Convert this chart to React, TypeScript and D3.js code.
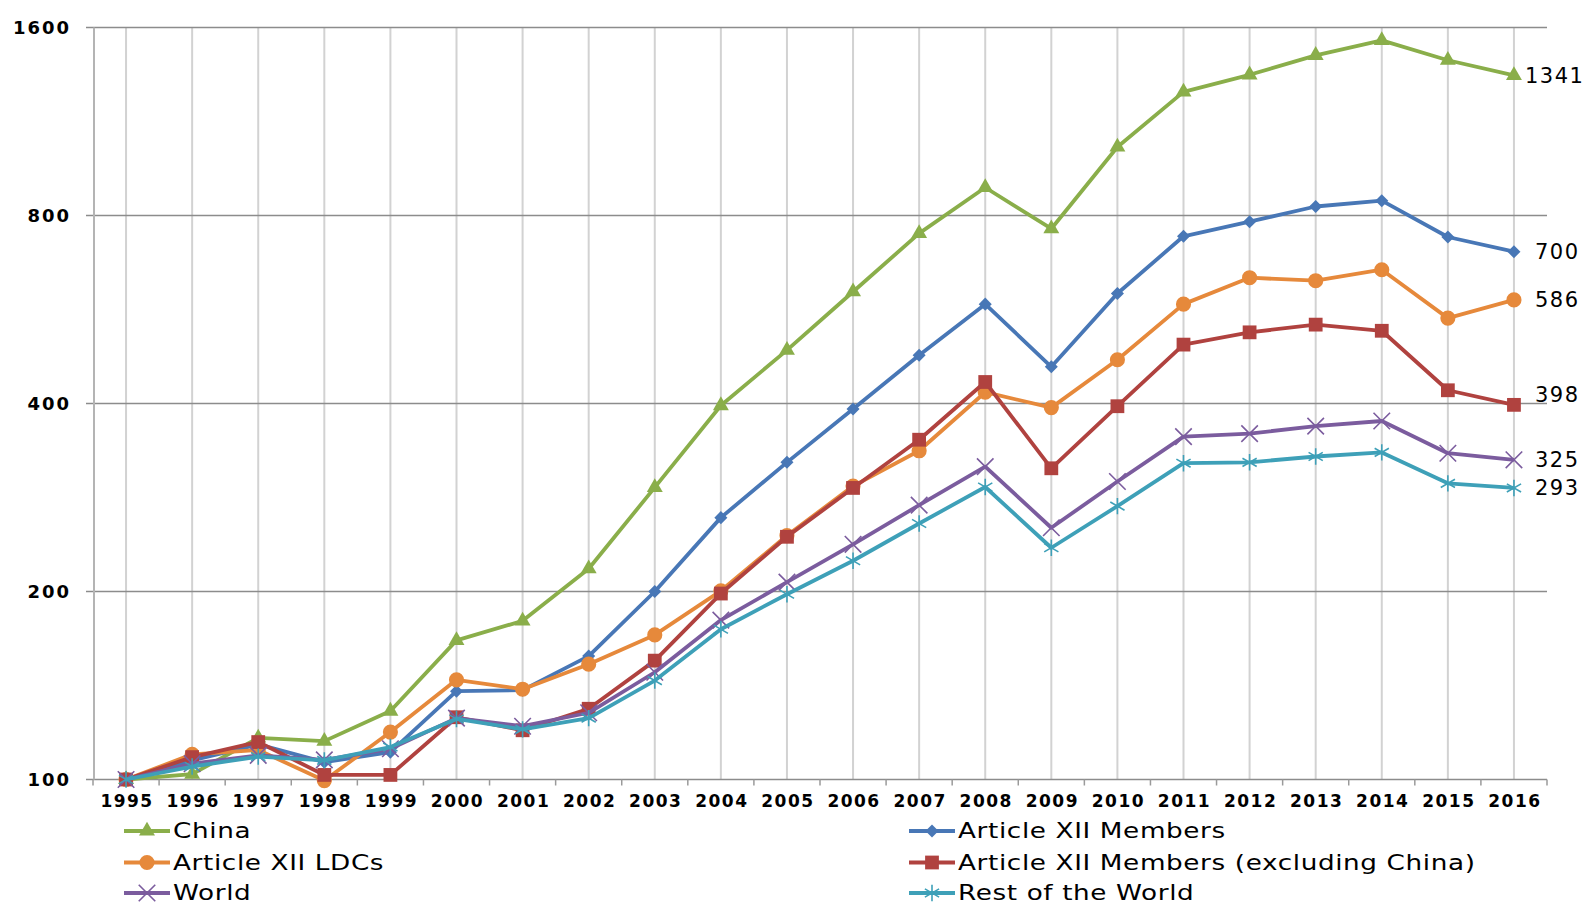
import { useEffect, useRef } from "react"
import * as d3 from "d3"

const years = d3.range(1995, 2017).map(String)
const yTicks = [100, 200, 400, 800, 1600]

const china = [100, 102, 116.6, 115.2, 128.7, 167, 179.5, 217.5, 293.6, 397, 487, 604, 749, 887, 762, 1030, 1262, 1344, 1444, 1526, 1418, 1341]
const members = [100, 107.3, 113.8, 106.6, 110.6, 138.5, 139, 157.6, 200, 262.6, 322, 392, 478, 577, 458, 600, 741, 782, 827, 845, 739, 700]
const ldcs = [100, 109.7, 111.5, 99.6, 119.1, 144.4, 139.5, 153, 170.4, 200.5, 245.8, 295, 336, 417, 394, 470, 577, 636, 629, 655, 548, 586]
const exChina = [100, 108.6, 114.8, 101.7, 101.7, 125.8, 119.9, 129.8, 155, 198.5, 244.7, 293, 350, 433, 315, 396, 497, 520, 535, 523, 420, 398]
const world = [100, 106, 109.3, 107.5, 112, 125.4, 121.7, 127.9, 148.5, 180, 207, 238, 275, 317, 253, 300, 354, 358, 368, 375, 333, 325]
const rest = [100, 104.9, 108.8, 107.3, 112.7, 125, 120.3, 125.4, 144, 174, 198, 224, 257, 294, 235, 274, 321, 322, 329, 334, 298, 293]

const endLabels = ["1341", "700", "586", "398", "325", "293"]

type Series = {
  name: string
  values: number[]
  color: string
  marker: "triangle" | "diamond" | "circle" | "square" | "x" | "star"
}

const series: Series[] = [
  { name: "China", values: china, color: "#8aae4a", marker: "triangle" },
  { name: "Article XII Members", values: members, color: "#4877b6", marker: "diamond" },
  { name: "Article XII LDCs", values: ldcs, color: "#e6893b", marker: "circle" },
  { name: "Article XII Members (excluding China)", values: exChina, color: "#b0423f", marker: "square" },
  { name: "World", values: world, color: "#7b5c9e", marker: "x" },
  { name: "Rest of the World", values: rest, color: "#3ea0b8", marker: "star" },
]

function markerPath(kind: Series["marker"]) {
  switch (kind) {
    case "triangle":
      return d3.symbol(d3.symbolTriangle, 110)()
    case "diamond":
      return d3.symbol(d3.symbolSquare, 85)()
    case "circle":
      return d3.symbol(d3.symbolCircle, 180)()
    case "square":
      return d3.symbol(d3.symbolSquare, 190)()
    case "x":
      return d3.symbol(d3.symbolTimes, 180)()
    case "star":
      return d3.symbol(d3.symbolAsterisk, 190)()
  }
}

export default function App() {
  const svgRef = useRef<SVGSVGElement>(null)

  useEffect(() => {
    if (!svgRef.current) return
    const svg = d3.select(svgRef.current)
    svg.selectAll("*").remove()

    const left = 93
    const right = 1547
    const top = 27.5
    const bottom = 779.5

    const x = d3.scaleBand().domain(years).range([left, right])
    const cx = (yr: string) => (x(yr) as number) + x.bandwidth() / 2
    const y = d3.scaleLog().base(2).domain([100, 1600]).range([bottom, top])

    // vertical gridlines
    svg.append("g")
      .selectAll("line")
      .data(years)
      .join("line")
      .attr("x1", (d) => cx(d))
      .attr("x2", (d) => cx(d))
      .attr("y1", top)
      .attr("y2", bottom)
      .attr("stroke", "#d2d2d2")
      .attr("stroke-width", 2)

    // horizontal gridlines + y ticks
    svg.append("g")
      .selectAll("line")
      .data(yTicks)
      .join("line")
      .attr("x1", left - 7)
      .attr("x2", right)
      .attr("y1", (d) => y(d))
      .attr("y2", (d) => y(d))
      .attr("stroke", "#8c8c8c")
      .attr("stroke-width", 1.5)

    // left axis line
    svg.append("line")
      .attr("x1", left + 1)
      .attr("x2", left + 1)
      .attr("y1", top)
      .attr("y2", bottom)
      .attr("stroke", "#b4b4b4")
      .attr("stroke-width", 2)

    // x tick marks at band edges
    svg.append("g")
      .selectAll("line")
      .data(d3.range(years.length + 1))
      .join("line")
      .attr("x1", (i) => left + i * x.step())
      .attr("x2", (i) => left + i * x.step())
      .attr("y1", bottom)
      .attr("y2", bottom + 6)
      .attr("stroke", "#9a9a9a")
      .attr("stroke-width", 1.5)

    // y labels
    svg.append("g")
      .selectAll("text")
      .data(yTicks)
      .join("text")
      .attr("x", 71)
      .attr("y", (d) => y(d))
      .attr("dy", "0.36em")
      .attr("text-anchor", "end")
      .attr("font-weight", "bold")
      .attr("font-size", 18)
      .attr("letter-spacing", 2)
      .attr("fill", "#000")
      .text((d) => d)

    // x labels
    svg.append("g")
      .selectAll("text")
      .data(years)
      .join("text")
      .attr("x", (d) => cx(d) + 1)
      .attr("y", bottom + 21)
      .attr("dy", "0.36em")
      .attr("text-anchor", "middle")
      .attr("font-weight", "bold")
      .attr("font-size", 17)
      .attr("letter-spacing", 1.5)
      .attr("fill", "#000")
      .text((d) => d)

    const line = d3
      .line<number>()
      .x((_, i) => cx(years[i]))
      .y((d) => y(d))

    series.forEach((s) => {
      const g = svg.append("g")
      g.append("path")
        .datum(s.values)
        .attr("fill", "none")
        .attr("stroke", s.color)
        .attr("stroke-width", 3.8)
        .attr("stroke-linejoin", "round")
        .attr("d", line)

      const stroked = s.marker === "x" || s.marker === "star"
      g.selectAll("path.m")
        .data(s.values)
        .join("path")
        .attr("class", "m")
        .attr("transform", (d, i) => `translate(${cx(years[i])},${y(d)})${s.marker === "diamond" ? " rotate(45)" : ""}`)
        .attr("d", markerPath(s.marker) as string)
        .attr("fill", stroked ? "none" : s.color)
        .attr("stroke", stroked ? s.color : "none")
        .attr("stroke-width", 1.6)
    })

    // end labels
    const labelDx = [11, 21, 21, 21, 21, 21]
    const labelDy = [0, 0, 0, -10, 0, 0]
    series.forEach((s, i) => {
      const last = s.values[s.values.length - 1]
      svg.append("text")
        .attr("x", cx(years[years.length - 1]) + labelDx[i])
        .attr("y", y(last) + labelDy[i])
        .attr("dy", "0.36em")
        .attr("font-size", 21)
        .attr("letter-spacing", 1.5)
        .attr("fill", "#000")
        .text(endLabels[i])
    })

    // legend
    const legendCols = [124, 909]
    const legendRows = [831, 862.5, 893]
    const stretch = 1.25
    series.forEach((s, i) => {
      const col = i % 2
      const row = Math.floor(i / 2)
      const g = svg.append("g").attr("transform", `translate(${legendCols[col]},${legendRows[row]})`)
      g.append("line")
        .attr("x1", 0)
        .attr("x2", 46)
        .attr("stroke", s.color)
        .attr("stroke-width", 3.8)
      const stroked = s.marker === "x" || s.marker === "star"
      g.append("path")
        .attr("transform", `translate(23,0)${s.marker === "diamond" ? " rotate(45)" : ""}`)
        .attr("d", markerPath(s.marker) as string)
        .attr("fill", stroked ? "none" : s.color)
        .attr("stroke", stroked ? s.color : "none")
        .attr("stroke-width", 1.6)
      g.append("text")
        .attr("transform", `translate(49,0) scale(${stretch},1)`)
        .attr("dy", "0.35em")
        .attr("font-size", 21)
        .attr("letter-spacing", 0.5)
        .attr("fill", "#000")
        .text(s.name)
    })
  }, [])

  return (
    <svg
      ref={svgRef}
      width={1583}
      height={907}
      style={{ position: "absolute", left: 0, top: 0, fontFamily: "'DejaVu Sans', Verdana, sans-serif", background: "#fff" }}
    />
  )
}
